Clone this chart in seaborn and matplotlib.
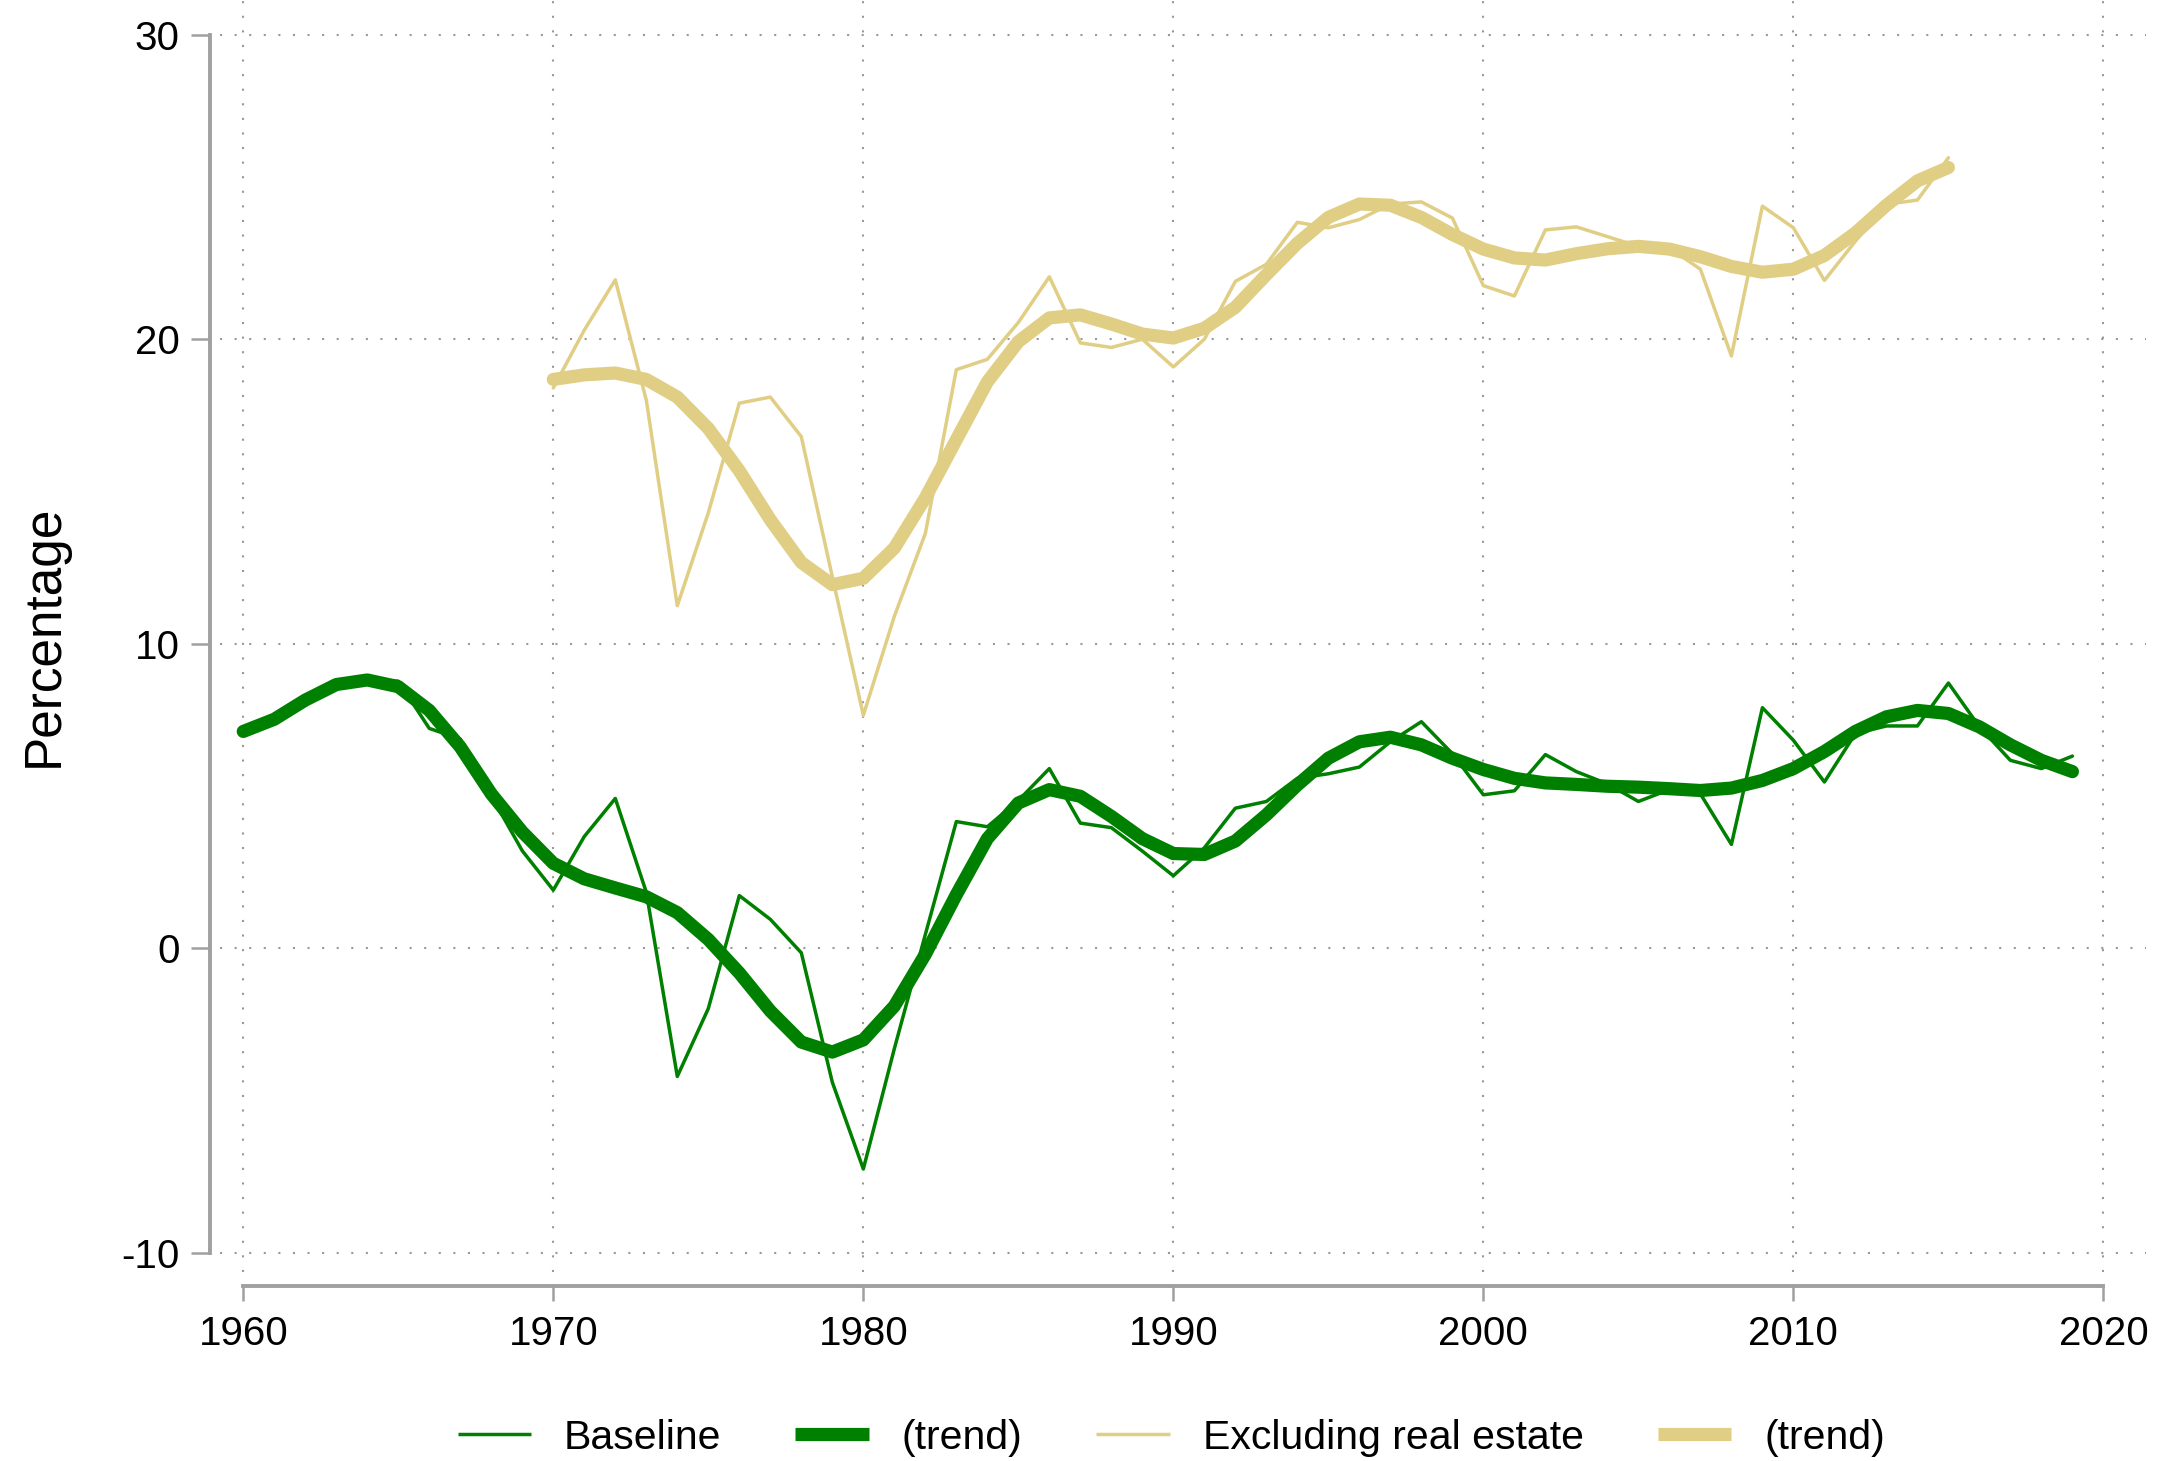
import numpy as np
import pandas as pd
import seaborn as sns
from matplotlib import pyplot as plt

# 数据
years_base = list(range(1960, 2020))
baseline = [7.12, 7.52, 8.15, 8.66, 8.81, 8.77, 7.22, 6.87, 5.0, 3.2,
            1.91, 3.67, 4.92, 1.84, -4.21, -1.98, 1.73, 0.95, -0.15, -4.4,
            -7.25, -3.3, 0.45, 4.16, 3.99, 4.85, 5.9, 4.11, 3.96, 3.19,
            2.38, 3.3, 4.6, 4.82, 5.58, 5.73, 5.95, 6.78, 7.44, 6.39,
            5.04, 5.17, 6.36, 5.8, 5.4, 4.82, 5.21, 5.07, 3.41, 7.9,
            6.83, 5.46, 7.05, 7.3, 7.3, 8.71, 7.27, 6.17, 5.9, 6.31]
baseline_trend = [7.12, 7.52, 8.15, 8.66, 8.81, 8.59, 7.81, 6.61, 5.07, 3.82,
                  2.79, 2.28, 1.98, 1.69, 1.17, 0.29, -0.81, -2.06, -3.08, -3.41,
                  -3.01, -1.9, -0.2, 1.76, 3.6, 4.77, 5.21, 4.99, 4.33, 3.6,
                  3.11, 3.08, 3.52, 4.38, 5.36, 6.24, 6.78, 6.93, 6.68, 6.24,
                  5.87, 5.58, 5.43, 5.38, 5.32, 5.29, 5.24, 5.18, 5.26, 5.51,
                  5.9, 6.46, 7.12, 7.6, 7.81, 7.71, 7.27, 6.68, 6.17, 5.8]

years_excl = list(range(1970, 2016))
excl = [18.4, 20.3, 21.95, 18.0, 11.25, 14.3, 17.9, 18.1, 16.8, 12.2,
        7.65, 10.9, 13.62, 19.0, 19.34, 20.55, 22.05, 19.88, 19.73, 20.0,
        19.09, 20.0, 21.9, 22.46, 23.84, 23.66, 23.93, 24.44, 24.51, 23.98,
        21.76, 21.42, 23.59, 23.69, 23.37, 23.05, 23.0, 22.3, 19.45, 24.37,
        23.66, 21.93, 23.22, 24.43, 24.57, 25.96]
excl_trend = [18.68, 18.83, 18.89, 18.68, 18.1, 17.07, 15.68, 14.07, 12.67, 11.94,
              12.15, 13.14, 14.79, 16.7, 18.6, 19.92, 20.7, 20.8, 20.5, 20.17,
              20.04, 20.36, 21.05, 22.12, 23.15, 24.0, 24.44, 24.4, 24.0, 23.44,
              22.96, 22.67, 22.6, 22.81, 22.97, 23.05, 22.96, 22.71, 22.39, 22.2,
              22.3, 22.75, 23.49, 24.4, 25.2, 25.64]

x_ticks = [1960, 1970, 1980, 1990, 2000, 2010, 2020]
y_ticks = [-10, 0, 10, 20, 30]

green = '#008000'
sand = '#E1CE85'
gray = '#A0A0A0'

sns.set_theme(style='white')
plt.rcParams['font.family'] = ['Liberation Sans', 'DejaVu Sans']
plt.rcParams['axes.unicode_minus'] = False
plt.rcParams['text.color'] = 'black'
plt.rcParams['axes.labelcolor'] = 'black'

df_b = pd.DataFrame({'year': years_base, 'v': baseline, 't': baseline_trend})
df_e = pd.DataFrame({'year': years_excl, 'v': excl, 't': excl_trend})

fig = plt.figure(figsize=(21.57, 14.61), dpi=100)
ax = fig.add_axes([0.102, 0.1294, 0.893, 0.8706])

sns.lineplot(data=df_b, x='year', y='v', color=green, lw=2.5, label='Baseline', ax=ax)
sns.lineplot(data=df_b, x='year', y='t', color=green, lw=9.5, label='(trend)', ax=ax)
sns.lineplot(data=df_e, x='year', y='v', color=sand, lw=2.5, label='Excluding real estate', ax=ax)
sns.lineplot(data=df_e, x='year', y='t', color=sand, lw=9.5, label='(trend)', ax=ax)

ax.set_xlim(1959.25, 2021.38)
ax.set_ylim(-10.63, 31.14)
ax.set_xticks(x_ticks)
ax.set_yticks(y_ticks)
ax.set_xlabel('')
ax.set_ylabel('Percentage', fontsize=37, labelpad=38)

# 网格 + 坐标轴 (Stata-like look)
ax.grid(True, linestyle=(0, (1, 6)), color='#999999', lw=1.5)
for s in ['top', 'right']:
    ax.spines[s].set_visible(False)
ax.spines['left'].set_position(('outward', 7))
ax.spines['bottom'].set_position(('outward', 10))
ax.spines['left'].set_bounds(-10, 30)
ax.spines['bottom'].set_bounds(1960, 2020)
for s in ['left', 'bottom']:
    ax.spines[s].set_color(gray)
    ax.spines[s].set_linewidth(2.8)
ax.tick_params(axis='both', which='major', direction='out', color=gray,
               width=1.8, labelsize=29, labelcolor='black', bottom=True, left=True)
ax.tick_params(axis='y', length=14, pad=8)
ax.tick_params(axis='x', length=11, pad=10)

handles, labels = ax.get_legend_handles_labels()
ax.get_legend().remove()
leg = fig.legend(handles, labels, loc='center', bbox_to_anchor=(0.543, 0.016), ncol=4,
                 frameon=False, fontsize=29.5, handlelength=1.8, handletextpad=0.8,
                 columnspacing=1.8)
for h in leg.get_lines():
    h.set_solid_capstyle('butt')

plt.savefig('out.png', dpi=100)
